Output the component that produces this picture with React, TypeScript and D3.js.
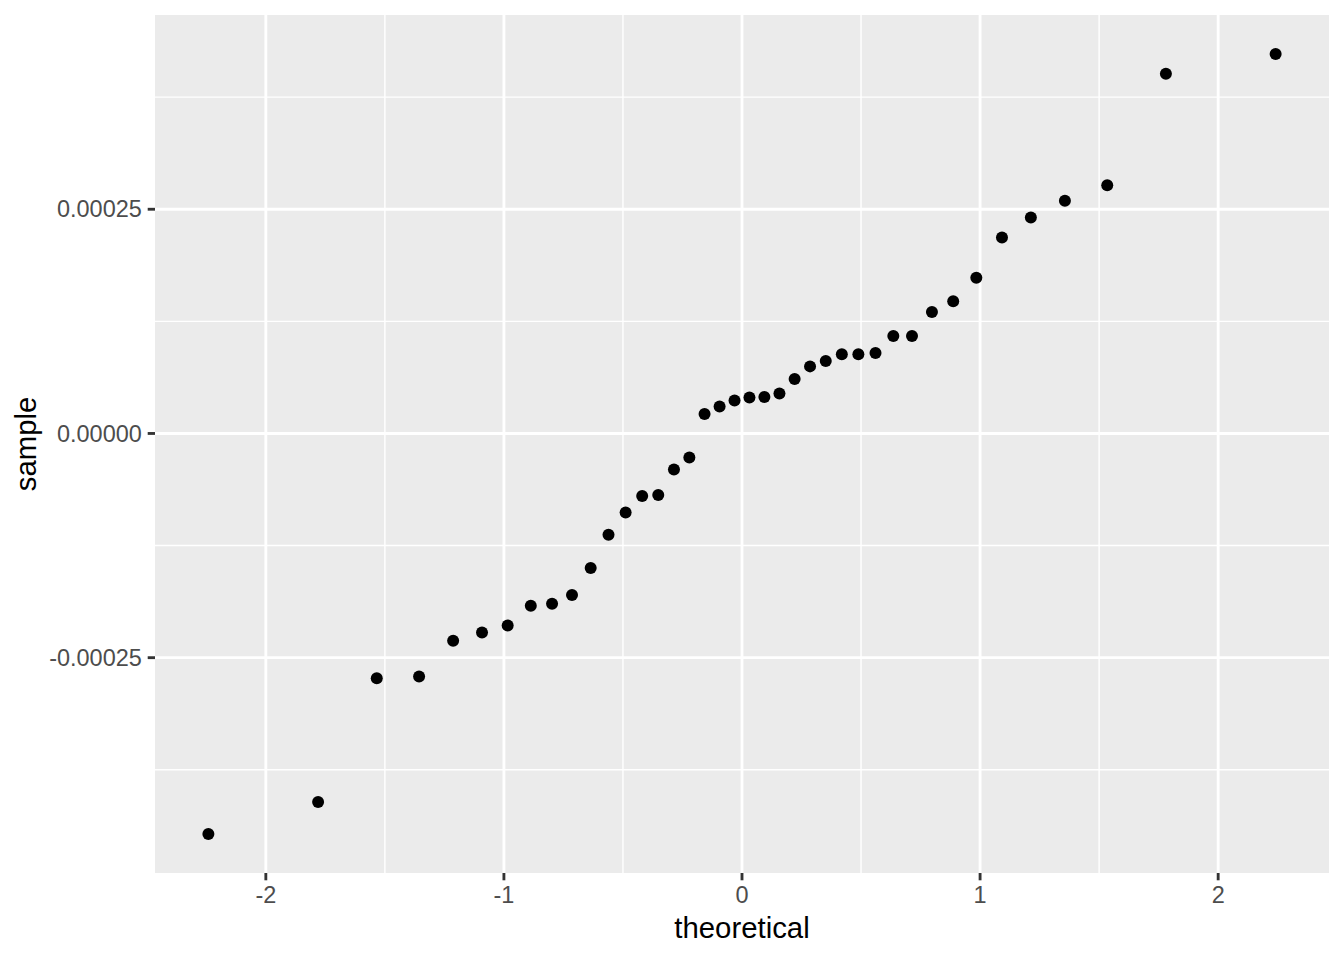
import React from "react";
import * as d3 from "d3";

const theoretical: number[] = [
  -2.2414, -1.7805, -1.5341, -1.3563, -1.2133, -1.092, -0.9842, -0.8871, -0.7978, -0.714,
  -0.6356, -0.5607, -0.4888, -0.4193, -0.3518, -0.2858, -0.2211, -0.1573, -0.0941, -0.0313,
  0.0313, 0.0941, 0.1573, 0.2211, 0.2858, 0.3518, 0.4193, 0.4888, 0.5607, 0.6356,
  0.714, 0.7978, 0.8871, 0.9842, 1.092, 1.2133, 1.3563, 1.5341, 1.7805, 2.2414,
];

const sample: number[] = [
  -0.0004466, -0.000411, -0.000273, -0.000271, -0.000231, -0.000222, -0.000214, -0.000192, -0.00019, -0.00018,
  -0.00015, -0.000113, -0.0000882, -0.0000698, -0.0000686, -0.0000402, -0.0000268, 0.0000218, 0.0000301, 0.0000368,
  0.0000402, 0.0000407, 0.0000446, 0.0000608, 0.0000748, 0.0000809, 0.0000882, 0.0000882, 0.0000898, 0.0001088,
  0.0001088, 0.0001354, 0.0001475, 0.0001735, 0.0002186, 0.0002409, 0.0002594, 0.0002768, 0.0004012, 0.0004231,
];

const xTicks: number[] = [-2, -1, 0, 1, 2];
const xMinor: number[] = [-1.5, -0.5, 0.5, 1.5];
const yTicks: number[] = [-0.00025, 0, 0.00025];
const yTickLabels: string[] = ["-0.00025", "0.00000", "0.00025"];
const yMinor: number[] = [-0.000375, -0.000125, 0.000125, 0.000375];

const W = 1344;
const H = 960;
const left = 155;
const right = 1329;
const top = 15;
const bottom = 873;

function expand(ext: [number, number]): [number, number] {
  const r = ext[1] - ext[0];
  return [ext[0] - r * 0.05, ext[1] + r * 0.05];
}

export default function App() {
  const x = d3.scaleLinear().domain(expand(d3.extent(theoretical) as [number, number])).range([left, right]);
  const y = d3.scaleLinear().domain(expand(d3.extent(sample) as [number, number])).range([bottom, top]);
  const font = "'Liberation Sans', Arial, Helvetica, sans-serif";
  const tickLen = 7.3;
  const gap = 5.9;
  return (
    <svg width={W} height={H} style={{ position: "absolute", left: 0, top: 0, background: "#fff" }} fontFamily={font}>
      <rect x={left} y={top} width={right - left} height={bottom - top} fill="#EBEBEB" />
      {yMinor.map((v) => (
        <line key={"ym" + v} x1={left} x2={right} y1={y(v)} y2={y(v)} stroke="#fff" strokeWidth={1.42} />
      ))}
      {xMinor.map((v) => (
        <line key={"xm" + v} y1={top} y2={bottom} x1={x(v)} x2={x(v)} stroke="#fff" strokeWidth={1.42} />
      ))}
      {yTicks.map((v) => (
        <line key={"yM" + v} x1={left} x2={right} y1={y(v)} y2={y(v)} stroke="#fff" strokeWidth={2.85} />
      ))}
      {xTicks.map((v) => (
        <line key={"xM" + v} y1={top} y2={bottom} x1={x(v)} x2={x(v)} stroke="#fff" strokeWidth={2.85} />
      ))}
      {theoretical.map((t, i) => (
        <circle key={"p" + i} cx={x(t)} cy={y(sample[i])} r={6} fill="#000" />
      ))}
      {yTicks.map((v, i) => (
        <g key={"yt" + v}>
          <line x1={left - tickLen} x2={left} y1={y(v)} y2={y(v)} stroke="#333333" strokeWidth={2.85} />
          <text x={left - tickLen - gap} y={y(v)} dy="0.35em" textAnchor="end" fontSize={23.47} fill="#4D4D4D">
            {yTickLabels[i]}
          </text>
        </g>
      ))}
      {xTicks.map((v) => (
        <g key={"xt" + v}>
          <line x1={x(v)} x2={x(v)} y1={bottom} y2={bottom + tickLen} stroke="#333333" strokeWidth={2.85} />
          <text x={x(v)} y={bottom + tickLen + gap} dy="0.72em" textAnchor="middle" fontSize={23.47} fill="#4D4D4D">
            {d3.format("d")(v).replace("−", "-")}
          </text>
        </g>
      ))}
      <text x={(left + right) / 2} y={938} textAnchor="middle" fontSize={29.33} fill="#000">
        theoretical
      </text>
      <text
        transform={`translate(36, ${(top + bottom) / 2}) rotate(-90)`}
        textAnchor="middle"
        fontSize={29.33}
        fill="#000"
      >
        sample
      </text>
    </svg>
  );
}
